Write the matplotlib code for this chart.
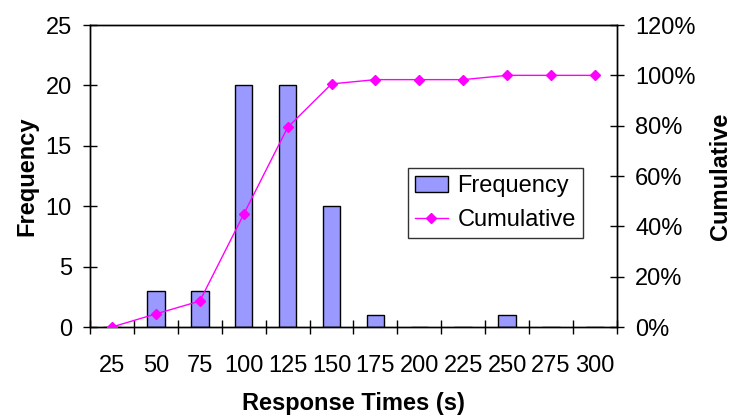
import matplotlib.pyplot as plt
import numpy as np

plt.rcParams['font.family'] = ['Liberation Sans', 'DejaVu Sans']

# datos
categorias = ['25', '50', '75', '100', '125', '150', '175', '200', '225', '250', '275', '300']
frecuencia = [0, 3, 3, 20, 20, 10, 1, 0, 0, 1, 0, 0]
acumulado = [0.0, 0.052, 0.103, 0.448, 0.793, 0.966, 0.983, 0.983, 0.983, 1.0, 1.0, 1.0]

x = np.arange(len(categorias))
fs = 17

fig = plt.figure(figsize=(7.33, 4.17), dpi=100)
ax = fig.add_axes([0.1228, 0.2158, 0.7189, 0.7242])

ax.bar(x, frecuencia, width=0.4, color='#9999FF', edgecolor='black', linewidth=1,
       label='Frequency', zorder=2)
ax.set_xlim(-0.5, len(categorias) - 0.5)
ax.set_ylim(0, 25)
ax.set_yticks([0, 5, 10, 15, 20, 25])

# marcas de categoria en los bordes, etiquetas en el centro
ax.set_xticks(x)
ax.set_xticklabels(categorias)
ax.set_xticks(np.arange(-0.5, len(categorias)), minor=True)
ax.tick_params(axis='x', which='major', length=0, pad=20, labelsize=fs)
ax.tick_params(axis='x', which='minor', direction='inout', length=10, width=1)
ax.tick_params(axis='y', direction='inout', length=10, width=1, pad=8, labelsize=fs)

ax2 = ax.twinx()
ax2.plot(x, acumulado, color='#FF00FF', marker='D', markersize=5, linewidth=1,
         label='Cumulative', zorder=3)
ax2.set_ylim(0, 1.2)
ax2.set_yticks([0, 0.2, 0.4, 0.6, 0.8, 1.0, 1.2])
ax2.set_yticklabels(['0%', '20%', '40%', '60%', '80%', '100%', '120%'])
ax2.tick_params(axis='y', direction='inout', length=10, width=1, pad=8, labelsize=fs)

for a in (ax, ax2):
    for s in a.spines.values():
        s.set_linewidth(1)

ax.set_xlabel('Response Times (s)', fontsize=fs, fontweight='bold', labelpad=11)
ax.set_ylabel('Frequency', fontsize=fs, fontweight='bold', labelpad=5)
ax2.set_ylabel('Cumulative', fontsize=fs, fontweight='bold', labelpad=10)

h1, l1 = ax.get_legend_handles_labels()
h2, l2 = ax2.get_legend_handles_labels()
leg = ax2.legend(h1 + h2, l1 + l2, loc='upper left', bbox_to_anchor=(0.603, 0.526),
                 fontsize=fs, frameon=True, fancybox=False, edgecolor='black',
                 handlelength=1.4, borderpad=0.3, labelspacing=0.5, handletextpad=0.4,
                 borderaxespad=0)
leg.get_frame().set_linewidth(1)

fig.savefig('out.png', dpi=100)
